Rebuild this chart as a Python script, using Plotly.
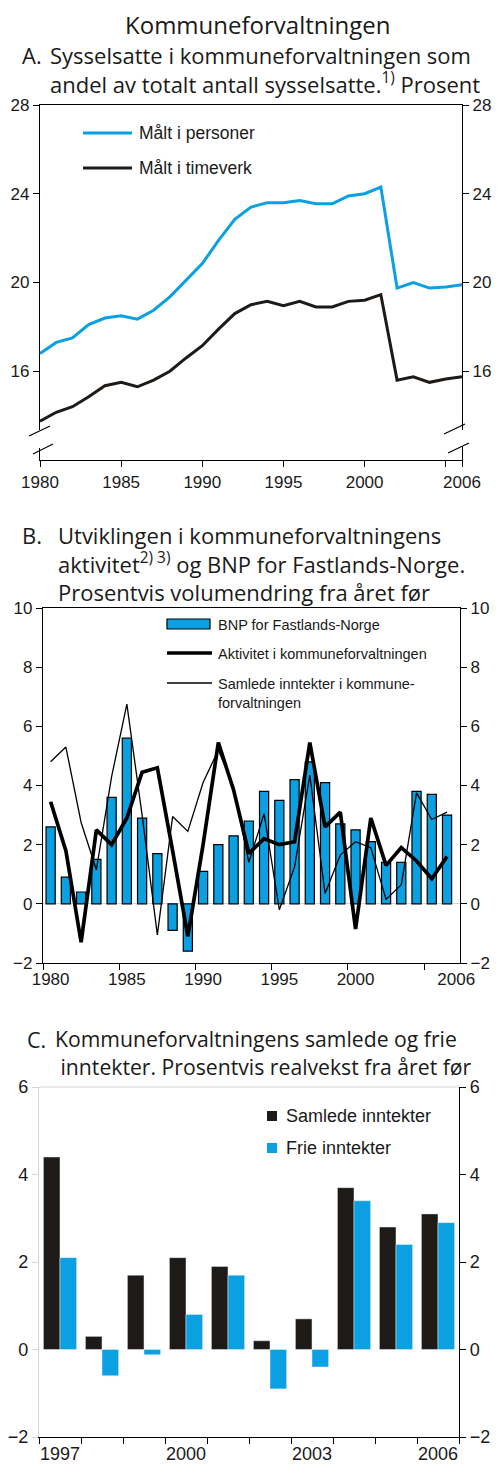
import plotly.graph_objects as go

# page has an 8px body margin; map reference pixel coords into figure fractions
OFF = 8
W, H = 500 - OFF, 1477 - OFF
def px(x): return (x - OFF) / W
def py(y): return 1 - (y - OFF) / H

# ---------------- data ----------------
years_a = list(range(1980, 2007))
personer = [16.8, 17.3, 17.5, 18.1, 18.4, 18.5, 18.35, 18.75, 19.35, 20.1, 20.85, 21.9, 22.85,
            23.4, 23.6, 23.6, 23.7, 23.55, 23.55, 23.9, 24.0, 24.3, 19.75, 20.0, 19.75, 19.8, 19.9]
timeverk = [13.75, 14.15, 14.4, 14.85, 15.35, 15.5, 15.3, 15.6, 16.0, 16.6, 17.15, 17.9, 18.6,
            19.0, 19.15, 18.95, 19.15, 18.9, 18.9, 19.15, 19.2, 19.45, 15.6, 15.75, 15.5, 15.65, 15.75]

years_b = list(range(1980, 2007))
bnp = [2.6, 0.9, 0.4, 1.5, 3.6, 5.6, 2.9, 1.7, -0.9, -1.6, 1.1, 2.0, 2.3, 2.8, 3.8, 3.5, 4.2,
       4.8, 4.1, 2.7, 2.5, 2.1, 1.4, 1.4, 3.8, 3.7, 3.0]
aktivitet = [3.45, 1.8, -1.3, 2.5, 2.0, 2.9, 4.45, 4.6, 1.8, -1.1, 2.0, 5.45, 3.85, 1.7, 2.2, 2.0,
             2.1, 5.45, 2.6, 3.1, -0.85, 2.9, 1.3, 1.9, 1.45, 0.85, 1.6]
samlede = [4.8, 5.3, 2.75, 1.15, 4.3, 6.75, 3.0, -1.05, 2.95, 2.45, 4.1, 5.2, 3.95, 1.4, 3.05,
           -0.2, 1.25, 4.35, 0.35, 1.65, 2.1, 1.9, 0.15, 0.65, 3.75, 2.85, 3.1]

years_c = list(range(1997, 2007))
samlede_c = [4.4, 0.3, 1.7, 2.1, 1.9, 0.2, 0.7, 3.7, 2.8, 3.1]
frie_c = [2.1, -0.6, -0.12, 0.8, 1.7, -0.9, -0.4, 3.4, 2.4, 2.9]

ticks_a = [1980, 1985, 1990, 1995, 2000, 2006]
ticktext_a = ["1980", "1985", "1990", "1995", "2000", "2006"]
ticks_b = [1980, 1985, 1990, 1995, 2000, 2006.6]
ticktext_b = ["1980", "1985", "1990", "1995", "2000", "2006"]
ticks_c = [1997, 2000, 2003, 2006]

BLUE = "#0AA0E2"
BLACK = "#1E1A17"
GRAY = "#D4D4D4"
TICKFONT = dict(family="Liberation Sans, Arial", size=17, color="#1a1a1a")
TITLEFONT = "Open Sans"

fig = go.Figure()

# Panel A
fig.add_trace(go.Scatter(x=years_a, y=personer, mode="lines", line=dict(color=BLUE, width=3),
                         xaxis="x", yaxis="y", showlegend=False))
fig.add_trace(go.Scatter(x=years_a, y=timeverk, mode="lines", line=dict(color=BLACK, width=3),
                         xaxis="x", yaxis="y", showlegend=False))
fig.add_trace(go.Scatter(x=[], y=[], xaxis="x", yaxis="y4", showlegend=False))

# Panel B
fig.add_trace(go.Bar(x=years_b, y=bnp, width=0.6, marker=dict(color=BLUE, line=dict(color="black", width=1.2)),
                     xaxis="x2", yaxis="y2", showlegend=False))
fig.add_trace(go.Scatter(x=years_b, y=samlede, mode="lines", line=dict(color="black", width=1.3),
                         xaxis="x2", yaxis="y2", showlegend=False))
fig.add_trace(go.Scatter(x=years_b, y=aktivitet, mode="lines", line=dict(color="black", width=3.7),
                         xaxis="x2", yaxis="y2", showlegend=False))
fig.add_trace(go.Scatter(x=[], y=[], xaxis="x2", yaxis="y5", showlegend=False))

# Panel C
fig.add_trace(go.Bar(x=years_c, y=samlede_c, marker=dict(color=BLACK), xaxis="x3", yaxis="y3",
                     showlegend=False))
fig.add_trace(go.Bar(x=years_c, y=frie_c, marker=dict(color=BLUE), xaxis="x3", yaxis="y3",
                     showlegend=False))
fig.add_trace(go.Scatter(x=[], y=[], xaxis="x3", yaxis="y6", showlegend=False))

common_x = dict(showline=True, linecolor="black", linewidth=1.2, showgrid=False, zeroline=False,
                tickfont=TICKFONT, ticklen=6, tickcolor="black", automargin=False, tickangle=0)
common_y = dict(showline=True, linecolor="black", linewidth=1.2, showgrid=False,
                tickfont=TICKFONT, ticks="outside", ticklen=6, tickcolor="black", automargin=False)

fig.update_layout(
    width=W, height=H, autosize=False,
    margin=dict(l=0, r=0, t=0, b=0, pad=0),
    paper_bgcolor="white", plot_bgcolor="white",
    barmode="group", bargap=0.21, bargroupgap=0,
    xaxis=dict(common_x, domain=[px(40), px(462)], range=[1980, 2006], tickvals=ticks_a,
               ticktext=ticktext_a, ticks="outside", anchor="y", mirror=True,
               minor=dict(tick0=1980, dtick=5, ticks="outside", ticklen=6, tickcolor="black", showgrid=False)),
    yaxis=dict(common_y, domain=[py(460), py(105)], range=[12, 28], tickvals=[16, 20, 24, 28],
               zeroline=False, anchor="x"),
    yaxis4=dict(common_y, range=[12, 28], tickvals=[16, 20, 24, 28], overlaying="y", side="right",
                anchor="x", zeroline=False),
    xaxis2=dict(common_x, domain=[px(43), px(460)], range=[1979.5, 2006.85], tickvals=ticks_b,
                ticktext=ticktext_b, ticks="", anchor="y2", mirror=True,
                minor=dict(tick0=1979.5, dtick=5, ticks="outside", ticklen=6, tickcolor="black", showgrid=False)),
    yaxis2=dict(common_y, domain=[py(963), py(608)], range=[-2, 10], dtick=2, anchor="x2",
                zeroline=True, zerolinecolor=GRAY, zerolinewidth=1),
    yaxis5=dict(common_y, range=[-2, 10], dtick=2, overlaying="y2", side="right", anchor="x2",
                zeroline=False),
    xaxis3=dict(common_x, domain=[px(39), px(459)], range=[1996.5, 2006.5], tickvals=ticks_c,
                ticks="", anchor="y3",
                tickfont=dict(TICKFONT, size=18),
                minor=dict(tick0=1996.5, dtick=1, ticks="outside", ticklen=6, tickcolor="black", showgrid=False)),
    yaxis3=dict(common_y, domain=[py(1437), py(1087)], range=[-2, 6], dtick=2, anchor="x3",
                linecolor=GRAY, tickcolor=GRAY, zeroline=False, tickfont=dict(TICKFONT, size=18)),
    yaxis6=dict(common_y, range=[-2, 6], dtick=2, overlaying="y3", side="right", anchor="x3",
                zeroline=False, tickfont=dict(TICKFONT, size=18)),
)

shapes = []
def pline(x0, y0, x1, y1, color="black", width=1.2):
    shapes.append(dict(type="line", xref="paper", yref="paper", x0=px(x0), y0=py(y0),
                       x1=px(x1), y1=py(y1), line=dict(color=color, width=width), layer="above"))
def prect(x0, y0, x1, y1, fill, lc=None, lw=0):
    shapes.append(dict(type="rect", xref="paper", yref="paper", x0=px(x0), y0=py(y0),
                       x1=px(x1), y1=py(y1), fillcolor=fill,
                       line=dict(color=lc if lc else fill, width=lw), layer="above"))

# Axis breaks in panel A
prect(36, 430, 45, 448, "white")
prect(457, 430, 466, 447, "white")
pline(29, 436, 50, 426)
pline(33, 454, 53, 444)
pline(444, 434, 465, 424)
pline(448, 453, 469, 443)

# Panel C top border (gray)
pline(39, 1087, 459, 1087, color=GRAY, width=1.2)

# Legend samples
pline(83, 133, 132, 133, color=BLUE, width=3)
pline(83, 168, 132, 168, color=BLACK, width=3)
prect(167, 619, 210, 629, BLUE, lc="black", lw=1.2)
pline(167, 653, 212, 653, color="black", width=3.7)
pline(167, 683, 212, 683, color="black", width=1.3)
prect(267, 1111, 277, 1121, BLACK)
prect(267, 1143, 277, 1153, BLUE)

fig.update_layout(shapes=shapes)

ann = []
def text(x, y, s, size, family="Liberation Sans, Arial", xanchor="left", color="#1a1a1a"):
    ann.append(dict(x=px(x), y=py(y), xref="paper", yref="paper", text=s, showarrow=False,
                    xanchor=xanchor, yanchor="middle", align="left",
                    font=dict(family=family, size=size, color=color)))

# Titles
text(257, 24.5, "Kommuneforvaltningen", 24, TITLEFONT, xanchor="center")
text(20, 55, "A.", 22, TITLEFONT)
text(48, 69, "Sysselsatte i kommuneforvaltningen som<br>andel av totalt antall sysselsatte.<sup>1)</sup> Prosent",
     22, TITLEFONT)
text(20, 535, "B.", 22, TITLEFONT)
text(56, 563, "Utviklingen i kommuneforvaltningens<br>aktivitet<sup>2) 3)</sup> og BNP for Fastlands-Norge.<br>"
     "Prosentvis volumendring fra året før", 22, TITLEFONT)
text(25, 1039, "C.", 21.5, TITLEFONT)
text(53, 1052, "Kommuneforvaltningens samlede og frie<br>&nbsp;inntekter. Prosentvis realvekst fra året før",
     21.2, TITLEFONT)

# Legends
text(137, 133, "Målt i personer", 17.5)
text(137, 168, "Målt i timeverk", 17.5)
text(216, 625, "BNP for Fastlands-Norge", 14.5)
text(216, 654, "Aktivitet i kommuneforvaltningen", 14.5)
text(216, 684, "Samlede inntekter i kommune-", 14.5)
text(216, 703, "forvaltningen", 14.5)
text(284, 1116, "Samlede inntekter", 18)
text(284, 1148, "Frie inntekter", 18)

fig.update_layout(annotations=ann)

fig.write_html("out.html")
